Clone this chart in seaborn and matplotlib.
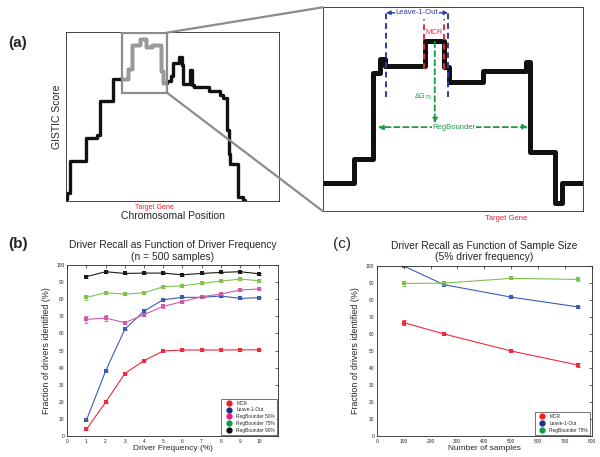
import numpy as np
import pandas as pd
import matplotlib
matplotlib.use('Agg')
import matplotlib.pyplot as plt
import seaborn as sns
from matplotlib.patches import Rectangle, ConnectionPatch
from matplotlib.lines import Line2D

# ---- panel (a): illustrative GISTIC score profile (arbitrary units 0-100)
chrom_pos = [0, 0.5, 2.0, 9.5, 14.5, 16.1, 22.0, 29.0, 31.2, 34.8, 37.4, 40.2, 44.6,
             45.7, 47.3, 49.3, 50.4, 53.0, 54.3, 55.1, 58.2, 59.0, 60.1, 67.2, 72.2,
             73.5, 75.4, 75.8, 76.6, 77.2, 80.8, 83.2, 83.9]
gistic_score = [1, 5, 23.6, 37.6, 39, 59, 72.2, 78, 92.1, 96, 91, 92.5, 77,
                70, 71, 74, 81.7, 85.2, 80.3, 69, 77.4, 68.5, 67.5, 65, 62.6,
                61.2, 56.7, 42, 28.1, 22.2, 2.6, 0.6, 0.6]
zoom_pos = [0, 12.2, 19.5, 21.9, 23.9, 39.2, 46.5, 48.5, 61.7, 78.4, 79.9, 89.3, 91.9, 100]
zoom_score = [13.7, 25.7, 68, 74.7, 71.4, 83.3, 70.6, 63.2, 68.6, 73, 28.9, 3.9, 13.7, 13.7]
target_left = 41.3
target_right = 70.7

# ---- panel (b): recall vs driver frequency (n = 500)
freq = [1, 2, 3, 4, 5, 6, 7, 8, 9, 10]
mcr_b = [3.9, 19.7, 36.5, 44.1, 49.7, 50.3, 50.3, 50.3, 50.4, 50.4]
loo_b = [9.2, 38.0, 62.4, 73.1, 79.7, 81.1, 81.1, 81.9, 80.5, 80.9]
rb50_b = [68.2, 69.0, 66.3, 71.0, 75.8, 78.6, 81.5, 83.0, 85.4, 86.0]
rb75_b = [81.1, 83.8, 83.0, 83.8, 87.3, 87.9, 89.3, 90.6, 91.8, 90.8]
rb90_b = [93.2, 96.1, 95.1, 95.3, 95.3, 94.3, 95.1, 95.7, 96.1, 94.9]
err_mcr_b = [0.5, 0.4, 0.4, 0.4, 0.4, 0.3, 0.3, 0.3, 0.3, 0.3]
err_loo_b = [0.5, 0.4, 0.4, 0.4, 0.4, 0.3, 0.3, 0.3, 0.3, 0.3]
err_rb50_b = [2.0, 1.5, 1.0, 1.0, 1.0, 0.8, 0.8, 0.8, 0.8, 0.8]
err_rb75_b = [1.5, 1.0, 0.8, 0.8, 0.8, 0.6, 0.5, 0.5, 0.8, 0.8]
err_rb90_b = [0.8, 0.5, 0.5, 0.5, 0.5, 0.5, 0.5, 0.5, 0.5, 0.5]

# ---- panel (c): recall vs sample size (5% driver frequency)
samples = [100, 250, 500, 750]
mcr_c = [66.7, 60.0, 50.0, 41.7]
loo_c = [100.0, 89.0, 81.7, 75.9]
rb75_c = [89.7, 89.9, 92.7, 92.1]
err_mcr_c = [1.5, 0.5, 0.5, 1.0]
err_loo_c = [0.4, 0.4, 0.4, 0.6]
err_rb75_c = [1.5, 0.8, 0.5, 1.0]

methods_b = ['MCR', 'Leave-1-Out', 'RegBounder 50%', 'RegBounder 75%', 'RegBounder 90%']
line_colors = {'MCR': '#ee2a3c', 'Leave-1-Out': '#3d5bb5', 'RegBounder 50%': '#d35ba6',
               'RegBounder 75%': '#7cc44a', 'RegBounder 90%': '#1a1a1a'}
legend_colors = {'MCR': '#ee1c24', 'Leave-1-Out': '#1f2c8c', 'RegBounder 50%': '#e8198b',
                 'RegBounder 75%': '#109a48', 'RegBounder 90%': '#111111'}

df_b = pd.DataFrame({
    'freq': freq * 5,
    'recall': mcr_b + loo_b + rb50_b + rb75_b + rb90_b,
    'err': err_mcr_b + err_loo_b + err_rb50_b + err_rb75_b + err_rb90_b,
    'method': np.repeat(methods_b, len(freq)),
})
methods_c = ['MCR', 'Leave-1-Out', 'RegBounder 75%']
df_c = pd.DataFrame({
    'samples': samples * 3,
    'recall': mcr_c + loo_c + rb75_c,
    'err': err_mcr_c + err_loo_c + err_rb75_c,
    'method': np.repeat(methods_c, len(samples)),
})

sns.set_style('white')
plt.rcParams['font.family'] = ['Liberation Sans', 'DejaVu Sans']
plt.rcParams['axes.linewidth'] = 0.6

fig = plt.figure(figsize=(6, 4.57), dpi=100)
ax_a = fig.add_axes([0.110, 0.560, 0.355, 0.370])
ax_z = fig.add_axes([0.538, 0.538, 0.433, 0.446])
ax_b = fig.add_axes([0.112, 0.046, 0.352, 0.374])
ax_c = fig.add_axes([0.628, 0.046, 0.358, 0.372])

# ---------------- panel (a) left
sns.lineplot(x=chrom_pos, y=gistic_score, ax=ax_a, color='#111111', lw=2.4,
             drawstyle='steps-post', estimator=None)
rect = Rectangle((26.2, 64.2), 21.1, 35.4, fill=False, ec='#8c8c8c', lw=1.6, zorder=5)
ax_a.add_patch(rect)
sns.lineplot(x=chrom_pos, y=gistic_score, ax=ax_a, color='#9a9a9a', lw=2.4,
             drawstyle='steps-post', estimator=None)
ax_a.lines[-1].set_clip_path(rect)
ax_a.set_xlim(0, 100)
ax_a.set_ylim(0, 100)
ax_a.set_yticks([])
ax_a.set_xticks([target_left])
ax_a.set_xticklabels(['Target Gene'], color='#e8202e', fontsize=5)
ax_a.tick_params(axis='x', direction='in', length=2, width=0.5, pad=2)
ax_a.set_xlabel('Chromosomal Position', fontsize=7.5, labelpad=0)
ax_a.set_ylabel('GISTIC Score', fontsize=7.5, labelpad=3)

# ---------------- panel (a) right (zoom)
sns.lineplot(x=zoom_pos, y=zoom_score, ax=ax_z, color='#111111', lw=3.6,
             drawstyle='steps-post', estimator=None)
ax_z.set_xlim(0, 100)
ax_z.set_ylim(0, 100)
ax_z.set_yticks([])
ax_z.set_xticks([target_right])
ax_z.set_xticklabels(['Target Gene'], color='#e8202e', fontsize=5.5)
ax_z.tick_params(axis='x', direction='in', length=2, width=0.5, pad=3)

blue, red, green = '#2b3fa0', '#ee2a3a', '#1a9a45'
for xv in (24.4, 48.2):
    ax_z.plot([xv, xv], [55.9, 98.4], ls=(0, (3, 2)), color=blue, lw=1.4)
for xv in (38.9, 46.5):
    ax_z.plot([xv, xv], [69.8, 94.3], ls=(0, (3, 2)), color=red, lw=1.4)
ax_z.annotate('', xy=(24.4, 97.3), xytext=(48.2, 97.3),
              arrowprops=dict(arrowstyle='<|-|>', color=blue, lw=1.0, mutation_scale=6,
                              shrinkA=0, shrinkB=0))
ax_z.text(36.3, 97.3, 'Leave-1-Out', color=blue, fontsize=5.5, ha='center', va='center',
          bbox=dict(fc='white', ec='none', pad=0.5))
ax_z.text(42.7, 87.8, 'MCR', color=red, fontsize=5.5, ha='center', va='center')
ax_z.annotate('', xy=(43.1, 43.0), xytext=(43.1, 83.0),
              arrowprops=dict(arrowstyle='-|>', color=green, lw=1.3, ls=(0, (3, 2)),
                              mutation_scale=7, shrinkA=0, shrinkB=0))
ax_z.text(38.5, 55.9, r'$\Delta$G$_{75}$', color=green, fontsize=5, ha='center', va='center')
ax_z.annotate('', xy=(21.2, 41.2), xytext=(79.0, 41.2),
              arrowprops=dict(arrowstyle='<|-|>', color=green, lw=1.3, ls=(0, (3, 2)),
                              mutation_scale=7, shrinkA=0, shrinkB=0))
ax_z.text(50.5, 41.2, 'RegBounder', color=green, fontsize=5.5, ha='center', va='center',
          bbox=dict(fc='white', ec='none', pad=0.3))

for xyA, xyB in (((47.3, 99.6), (0, 1)), ((47.3, 64.2), (0, 0))):
    con = ConnectionPatch(xyA=xyA, coordsA=ax_a.transData, xyB=xyB, coordsB=ax_z.transAxes,
                          color='#8c8c8c', lw=1.6, zorder=10)
    fig.add_artist(con)

# ---------------- panels (b) and (c)
def recall_panel(ax, df, xcol, methods):
    sns.lineplot(data=df, x=xcol, y='recall', hue='method', hue_order=methods,
                 palette=line_colors, marker='s', markersize=2.3, markeredgewidth=0,
                 lw=0.8, ax=ax, legend=False, estimator=None)
    for m in methods:
        sub = df[df['method'] == m]
        ax.errorbar(sub[xcol], sub['recall'], yerr=sub['err'], fmt='none',
                    ecolor=line_colors[m], elinewidth=0.6, capsize=1.5, capthick=0.6)
    handles = [Line2D([], [], marker='o', ls='none', color=legend_colors[m], markersize=3.5)
               for m in methods]
    leg = ax.legend(handles, methods, loc='lower right', fontsize=3.5, frameon=True,
                    fancybox=False, edgecolor='#333333', handletextpad=0.4,
                    borderpad=0.45, labelspacing=0.35, handlelength=2.2,
                    borderaxespad=0.25)
    leg.get_frame().set_linewidth(0.6)
    ax.set_ylim(0, 100)
    ax.set_yticks(range(0, 101, 10))
    ax.tick_params(direction='in', length=2, width=0.5, labelsize=3.5, pad=2,
                   top=True, right=True)
    ax.set_ylabel('Fraction of drivers identified (%)', fontsize=6.4, labelpad=4)

recall_panel(ax_b, df_b, 'freq', methods_b)
ax_b.set_xlim(0, 11)
ax_b.set_xticks(range(0, 11))
ax_b.set_xlabel('Driver Frequency (%)', fontsize=6, labelpad=1)
ax_b.set_title('Driver Recall as Function of Driver Frequency\n(n = 500 samples)',
               fontsize=7.4, pad=4, linespacing=1.2)

recall_panel(ax_c, df_c, 'samples', methods_c)
ax_c.set_xlim(0, 800)
ax_c.set_xticks(range(0, 801, 100))
ax_c.set_xlabel('Number of samples', fontsize=6, labelpad=1)
ax_c.set_title('Driver Recall as Function of Sample Size\n(5% driver frequency)',
               fontsize=7.4, pad=4, linespacing=1.2)

fig.text(0.014, 0.905, '(a)', fontsize=11, fontweight='bold', va='center')
fig.text(0.014, 0.467, '(b)', fontsize=11, fontweight='bold', va='center')
fig.text(0.555, 0.467, '(c)', fontsize=11, va='center')

fig.savefig('out.png', dpi=100)
